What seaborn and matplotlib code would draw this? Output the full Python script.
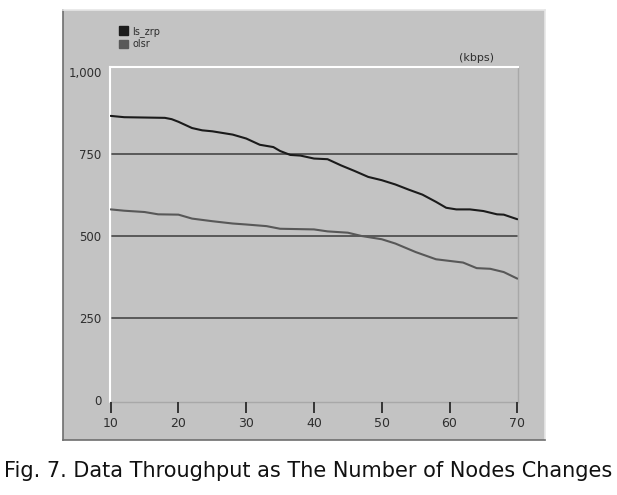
import matplotlib
matplotlib.use("Agg")
import matplotlib.pyplot as plt
from matplotlib.patches import Patch
from matplotlib.markers import TICKDOWN
import seaborn as sns
import pandas as pd

# ---- data ----
x_ls_zrp = [10, 12, 18, 19, 20, 22, 23.5, 25, 28, 30, 32, 34, 35, 36.5, 38, 40, 42, 44, 46, 48,
            50, 52, 54, 56, 58, 59.5, 61, 63, 65, 67, 68, 70]
y_ls_zrp = [866, 862, 860, 856, 848, 829, 822, 819, 809, 797, 778, 771, 759, 747, 745, 736, 734,
            715, 698, 680, 670, 657, 641, 626, 604, 586, 581, 581, 576, 566, 565, 551]
x_olsr = [10, 12, 15, 17, 20, 22, 25, 28, 30, 33, 35, 40, 42, 45, 47, 50, 52, 55, 58, 60, 62,
          64, 66, 68, 70]
y_olsr = [581, 577, 573, 566, 565, 553, 545, 538, 535, 530, 522, 520, 514, 510, 500, 490, 477,
          451, 429, 424, 419, 402, 400, 390, 370]
series_names = ["ls_zrp", "olsr"]
series_colors = ["#1b1b1b", "#585858"]
x_ticks = [10, 20, 30, 40, 50, 60, 70]
y_ticks = [0, 250, 500, 750, 1000]
y_ticklabels = ["0", "250", "500", "750", "1,000"]
unit_label = "(kbps)"
caption = "Fig. 7. Data Throughput as The Number of Nodes Changes"

df = pd.concat([
    pd.DataFrame({"nodes": x_ls_zrp, "throughput": y_ls_zrp, "protocol": series_names[0]}),
    pd.DataFrame({"nodes": x_olsr, "throughput": y_olsr, "protocol": series_names[1]}),
])

sns.set_style("white")
plt.rcParams["font.family"] = ["DejaVu Sans"]

W, H = 617, 495
fig = plt.figure(figsize=(W / 100, H / 100), dpi=100)
fig.patch.set_facecolor("white")

panel_gray = "#c3c3c3"
# outer gray panel as a background axes
bg = fig.add_axes([63 / W, 1 - 440 / H, 482 / W, 430 / H], zorder=0)
bg.set_facecolor(panel_gray)
bg.tick_params(bottom=False, left=False, labelbottom=False, labelleft=False)
for side in ["left", "bottom"]:
    bg.spines[side].set_color("#6e6e6e")
    bg.spines[side].set_linewidth(1.2)
for side in ["right", "top"]:
    bg.spines[side].set_color("#e6e6e6")
    bg.spines[side].set_linewidth(1.2)

ax = fig.add_axes([110 / W, 1 - 402 / H, 408 / W, 335 / H], zorder=1)
ax.set_facecolor(panel_gray)

for yv in [250, 500, 750]:
    ax.axhline(yv, xmin=0.006, xmax=0.998, color="#505050", lw=1.3, zorder=1)

sns.lineplot(data=df, x="nodes", y="throughput", hue="protocol", palette=series_colors,
             hue_order=series_names, ax=ax, lw=1.5, legend=False, zorder=3, estimator=None,
             sort=False)

ax.set_xlim(9.9, 70.1)
ax.set_ylim(-6, 1015)
ax.set_xlabel("")
ax.set_ylabel("")

for side in ["left", "top"]:
    ax.spines[side].set_color("white")
    ax.spines[side].set_linewidth(1.5)
for side in ["right", "bottom"]:
    ax.spines[side].set_color("#a8a8a8")
    ax.spines[side].set_linewidth(1.0)

ax.set_yticks(y_ticks)
ax.set_yticklabels(y_ticklabels)
ax.set_xticks(x_ticks)
ax.tick_params(axis="y", left=False, length=0, pad=6, labelsize=8.5, labelcolor="#2e2e2e")
ax.tick_params(axis="x", bottom=True, length=0, pad=11, labelsize=9, labelcolor="#2e2e2e")

# x tick marks hanging down from the axis at the tick positions
ax.plot(x_ticks, [0] * len(x_ticks), linestyle="none", marker=TICKDOWN, markersize=8,
        markeredgewidth=1.3, color="#2a2a2a", clip_on=False, zorder=6,
        transform=ax.get_xaxis_transform())

# legend with square swatches
handles = [Patch(facecolor=c, edgecolor=c, label=n) for n, c in zip(series_names, series_colors)]
leg = fig.legend(handles=handles, loc="upper left", bbox_to_anchor=(114 / W, 1 - 21 / H),
                 frameon=False, fontsize=7, handlelength=0.9, handleheight=0.9, labelspacing=0.25,
                 borderpad=0, handletextpad=0.5, labelcolor="#2e2e2e")
leg.set_zorder(5)

fig.text(477 / W, 1 - 58 / H, unit_label, ha="center", va="center", fontsize=8, color="#2e2e2e",
         zorder=5)

fig.text(308 / W, 1 - 471 / H, caption, ha="center", va="center", fontsize=15,
         color="#111111")

fig.savefig("out.png", dpi=100)
